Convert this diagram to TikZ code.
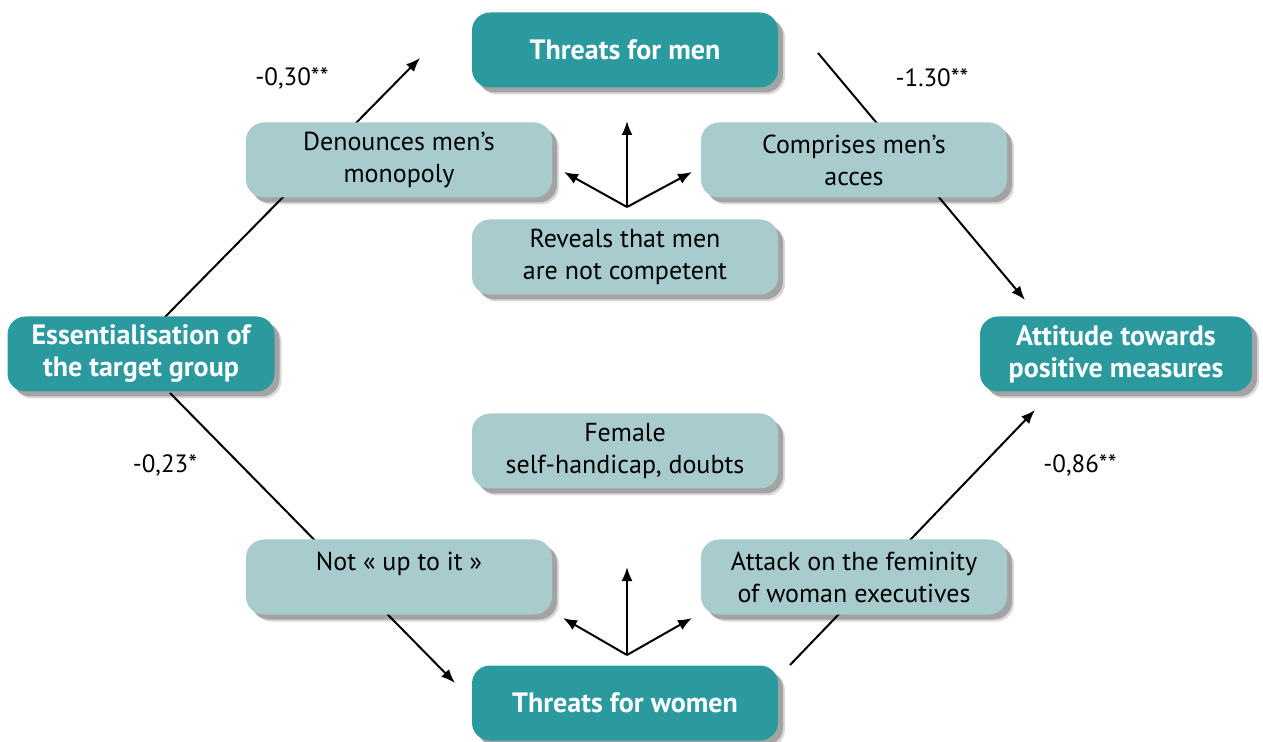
\documentclass[tikz,border=0pt]{standalone}
\usepackage{fontspec}
\setmainfont{PT Sans}
\usepackage{tikz}
\usetikzlibrary{
    arrows.meta,
    shadows,
    calc,
    positioning
}
\definecolor{tealdark}{HTML}{2A9A9F}
\definecolor{teallight}{HTML}{A8CBCD}
\tikzset{softshadow/.style={drop shadow={shadow xshift=2.5pt, shadow yshift=-2.5pt, fill=black, opacity=0.25},
    drop shadow={shadow xshift=3.5pt, shadow yshift=-3.5pt, fill=black, opacity=0.15}}}
\tikzset{boxd/.style={inner sep=0pt, rounded corners=9pt, fill=tealdark, text=white,
    font=\fontsize{14}{16}\selectfont\bfseries, align=center,
    minimum width=153pt, minimum height=37.5pt, softshadow}}
\tikzset{boxl/.style={inner sep=0pt, rounded corners=9pt, fill=teallight, text=black,
    font=\fontsize{13}{16}\selectfont, align=center,
    minimum width=153pt, minimum height=37.5pt, softshadow}}
\tikzset{link/.style={line width=1pt, -{Latex[length=7pt, width=5.5pt]}}}
\tikzset{coef/.style={font=\fontsize{12.5}{14}\selectfont}}

\begin{document}
\begin{tikzpicture}[x=0.5pt, y=-0.5pt]
    \useasboundingbox (0,0) rectangle (1263,742);

    % free ends of the long links
    \coordinate (es) at (165,317);
    \coordinate (mi) at (420,58);
    \coordinate (mo) at (818,53);
    \coordinate (ai) at (1025,300);
    \coordinate (eb) at (170,393);
    \coordinate (wi) at (455,683);
    \coordinate (wo) at (790,665);
    \coordinate (ab) at (1035,410);

    \draw[link] (es) -- (mi);
    \draw[link] (mo) -- (ai);
    \draw[link] (eb) -- (wi);
    \draw[link] (wo) -- (ab);

    \node[boxd] (men) at (625,50) {Threats for men};
    \node[boxd] (women) at (625,703) {Threats for women};
    \node[boxd, minimum width=133.5pt] (essen) at (141,354) {Essentialisation of\\the target group};
    \node[boxd, minimum width=136pt] (attit) at (1116,354) {Attitude towards\\positive measures};

    \node[boxl] (denounce) at (399,160) {Denounces men’s\\monopoly};
    \node[boxl] (comprise) at (854,160) {Comprises men’s\\acces};
    \node[boxl] (reveal) at (625,257) {Reveals that men\\are not competent};
    \node[boxl] (female) at (625,451) {Female\\self-handicap, doubts};
    \node[boxl] (notup) at (399,577) {Not « up to it »\\\mbox{}};
    \node[boxl] (attack) at (854,577) {Attack on the feminity\\of woman executives};

    % fans
    \coordinate (ft) at (627,207);
    \coordinate (ftn) at (627,121);
    \coordinate (ftw) at (564,172);
    \coordinate (fte) at (692,172);
    \coordinate (fb) at (627,655);
    \coordinate (fbn) at (627,567);
    \coordinate (fbw) at (563,618);
    \coordinate (fbe) at (692,618);
    \draw[link] (ft) -- (ftn);
    \draw[link] (ft) -- (ftw);
    \draw[link] (ft) -- (fte);
    \draw[link] (fb) -- (fbn);
    \draw[link] (fb) -- (fbw);
    \draw[link] (fb) -- (fbe);

    \node[coef] (c1) at (292,78) {-0,30**};
    \node[coef] (c2) at (932,78) {-1.30**};
    \node[coef] (c3) at (165,465) {-0,23*};
    \node[coef] (c4) at (1080,465) {-0,86**};
\end{tikzpicture}
\end{document}
